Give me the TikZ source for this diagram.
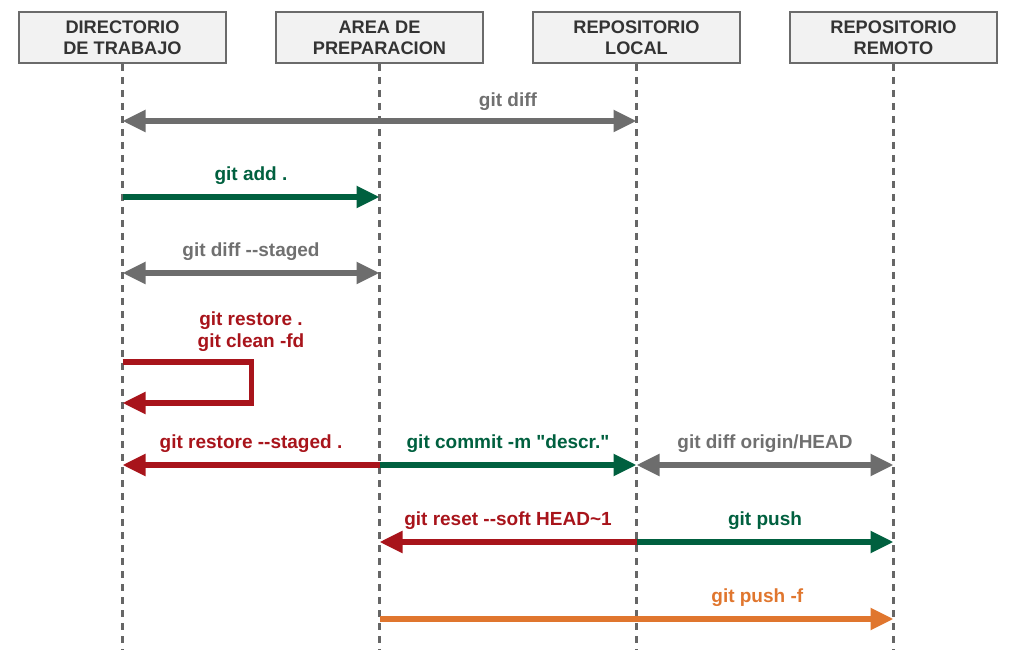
\documentclass[tikz,border=0pt]{standalone}
\usepackage{fontspec}
\setmainfont{Liberation Sans}
\usepackage{tikz}
\usetikzlibrary{arrows.meta}
\usetikzlibrary{positioning}
\definecolor{grisLinea}{HTML}{666666}
\definecolor{grisCaja}{HTML}{6B6B6B}
\definecolor{fondoCaja}{HTML}{F2F2F2}
\definecolor{textoCaja}{HTML}{333333}
\definecolor{grisFlecha}{HTML}{6D6D6D}
\definecolor{grisTexto}{HTML}{707070}
\definecolor{verde}{HTML}{00603F}
\definecolor{rojo}{HTML}{A8141B}
\definecolor{naranja}{HTML}{E0762E}
\tikzset{
  cabecera/.style = {draw=grisCaja, fill=fondoCaja, line width=2pt,
    minimum width=207pt, minimum height=51pt, align=center, inner sep=0pt,
    text=textoCaja, font=\fontsize{18.2}{21}\selectfont\bfseries},% caja de cabecera
  vida/.style = {draw=grisLinea, line width=2.5pt,
    dash pattern=on 7pt off 6pt},% linea de vida
  flecha/.style = {line width=5.5pt},
  etiq/.style = {inner sep=0pt, align=center,
    font=\fontsize{19}{22}\selectfont\bfseries}% etiqueta de flecha
}

\begin{document}
\begin{tikzpicture}[x=1pt,y=-1pt,>={Triangle[length=23pt,width=21pt]}]
\useasboundingbox (0,0) rectangle (1013,668);

\node [cabecera] (dir) at (122.5,37.5) {DIRECTORIO\\DE TRABAJO};
\node [cabecera, right=48pt of dir] (area) {AREA DE\\PREPARACION};
\node [cabecera, right=48pt of area] (loc) {REPOSITORIO\\LOCAL};
\node [cabecera, right=48pt of loc] (rem) {REPOSITORIO\\REMOTO};

% lineas de vida
\foreach \c in {dir,area,loc,rem}
  \draw[vida] (\c.south) -- (\c.south |- 0,650);

% puntos de cada fila
\foreach \c in {dir,area,loc,rem}
  \foreach \f/\y in {a/121,b/197,c/273,e/465,f/542,g/619}
    \coordinate (\c-\f) at (\c |- 0,\y);
\coordinate (lazo1) at (dir |- 0,362);
\coordinate (lazo2) at (dir |- 0,403);

\draw[flecha, grisFlecha, <->] (dir-a) -- (loc-a);
\path (area-a) -- (loc-a) node[midway, etiq, text=grisTexto, above=10pt] {git diff};

\draw[flecha, verde, ->] (dir-b) -- node[etiq, above=10pt] {git add .} (area-b);

\draw[flecha, grisFlecha, <->] (dir-c) -- node[etiq, text=grisTexto, above=10pt] {git diff -{}-staged} (area-c);

%\draw[flecha, rojo, ->] (lazo1) -- (lazo2);
\draw[flecha, rojo, ->] (lazo1) -- ++(129,0) |- (lazo2);
\path (lazo1) -- (area |- lazo1) node[midway, etiq, rojo, above=10pt] {git restore .\\git clean -fd};

\draw[flecha, rojo, ->] (area-e) -- node[etiq, above=10pt] {git restore -{}-staged .} (dir-e);
\draw[flecha, verde, ->] (area-e) -- node[etiq, above=10pt] {git commit -m \textquotedbl descr.\textquotedbl} (loc-e);
\draw[flecha, grisFlecha, <->] (loc-e) -- node[etiq, text=grisTexto, above=10pt] {git diff origin/HEAD} (rem-e);

\draw[flecha, rojo, ->] (loc-f) -- node[etiq, above=10pt] {git reset -{}-soft HEAD\textasciitilde 1} (area-f);
\draw[flecha, verde, ->] (loc-f) -- node[etiq, above=10pt] {git push} (rem-f);

\draw[flecha, naranja, ->] (area-g) -- node[etiq, pos=.735, above=10pt] {git push -f} (rem-g);
\end{tikzpicture}
\end{document}
